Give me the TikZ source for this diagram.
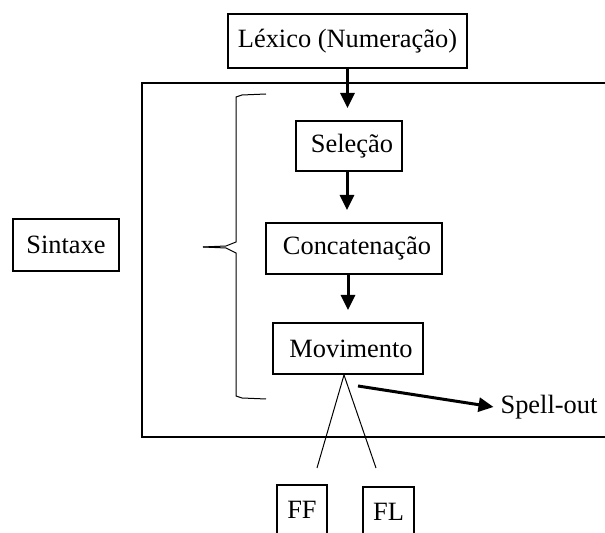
\documentclass[tikz,border=0pt]{standalone}
\usepackage{fontspec}
\setmainfont{Liberation Serif}
\usetikzlibrary{arrows.meta}

\begin{document}
\begin{tikzpicture}[x=0.5pt, y=-0.5pt,
  font=\fontsize{13.2}{15}\selectfont,
  box/.style={rectangle, draw, line width=1pt, inner sep=0pt},
  flow/.style={-{Triangle[width=7pt, length=7.5pt]}, line width=1.5pt, shorten >=6pt},
  thinline/.style={line width=0.5pt}]

  % Picture area (the frame and the lower boxes run past it)
  \clip (0,0) rectangle (605,533);

  % Syntax frame
  \draw[line width=1pt] (142,83) rectangle (640,437);

  % Steps of the derivation
  \node[box, minimum width=119.5pt, minimum height=27pt] (lexico) at (347.5,41) {Léxico (Numeração)};
  \node[box, minimum width=53pt, minimum height=25pt] (selecao) at (349,146) {\hspace{3pt}Seleção};
  \node[box, minimum width=88pt, minimum height=25.5pt] (concat) at (354,248.5) {\hspace{3pt}Concatenação};
  \node[box, minimum width=75pt, minimum height=25.5pt] (movimento) at (348,348.5) {\hspace{3pt}Movimento};

  % Label on the left
  \node[box, minimum width=53pt, minimum height=26pt] (sintaxe) at (66,245) {Sintaxe};

  % Interfaces
  \node[box, minimum width=25pt, minimum height=25pt] (ff) at (302,510) {FF};
  \node[box, minimum width=25.5pt, minimum height=25pt] (fl) at (388.5,512) {FL};
  \node (spellout) at (549,407) {Spell-out};

  % Brace grouping the steps
  \draw[thinline] (266,94) -- (242,95) -- (236,97) -- (236,242) -- (226,246) -- (203,247);
  \draw[thinline] (203,247) -- (226,248) -- (236,253) -- (236,396) -- (242,398) -- (266,399);

  % Arrows between the steps
  \draw[flow] (lexico.south) -- (lexico.south |- selecao.north);
  \draw[flow] ([xshift=-1pt]selecao.south) -- ([xshift=-1pt]selecao.south |- concat.north);
  \draw[flow] (movimento.north |- concat.south) -- (movimento.north);

  % Spell-out
  \coordinate (spstart) at (358,386);
  \draw[flow, shorten >=0pt] (spstart) -- (spellout.west);

  % Branches towards FF and FL
  \coordinate (ffend) at (317,468);
  \coordinate (flend) at (376,468);
  \draw[thinline] ([xshift=-2pt]movimento.south) -- (ffend);
  \draw[thinline] ([xshift=-2pt]movimento.south) -- (flend);

\end{tikzpicture}
\end{document}
